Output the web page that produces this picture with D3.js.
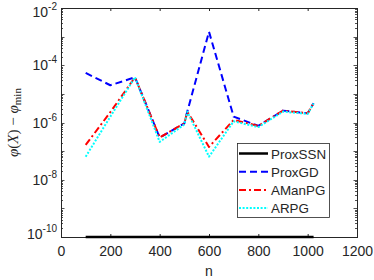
<!DOCTYPE html>
<html>
<head>
<meta charset="utf-8">
<script src="https://cdn.jsdelivr.net/npm/d3@7"></script>
<style>
    body { margin: 0; background: #fff; }
    svg text { font-family: "Liberation Sans", Arial, sans-serif; fill: #262626; }
</style>
</head>
<body>
<div class="canvas"></div>
<script>
    const nValues = [100, 200, 300, 400, 500, 512, 600, 700, 800, 900, 1000, 1024];
    const proxSSN = [1e-10, 1e-10, 1e-10, 1e-10, 1e-10, 1e-10, 1e-10, 1e-10, 1e-10, 1e-10, 1e-10, 1e-10];
    const proxGD = [5.4e-5, 2.0e-5, 3.8e-5, 3.0e-7, 9.3e-7, 2.4e-6, 1.48e-3, 1.6e-6, 7.6e-7, 2.6e-6, 2.1e-6, 4.7e-6];
    const aManPG = [1.64e-7, 2.3e-6, 3.8e-5, 3.0e-7, 9.3e-7, 2.4e-6, 1.4e-7, 1.23e-6, 7.6e-7, 2.6e-6, 2.1e-6, 4.7e-6];
    const arpg = [6.4e-8, 1.6e-6, 3.8e-5, 2.1e-7, 8.5e-7, 2.4e-6, 6.4e-8, 1.1e-6, 6.9e-7, 2.4e-6, 2.0e-6, 4.6e-6];
    const seriesNames = ["ProxSSN", "ProxGD", "AManPG", "ARPG"];
    const xTicks = [0, 200, 400, 600, 800, 1000, 1200];
    const yTickExps = [-10, -8, -6, -4, -2];

    (function () {
        const width = 374, height = 280;
        const LEFT = 61, RIGHT = 357, TOP = 8, BOTTOM = 237;
        const AXIS_COLOR = "#262626";

        const svg = d3.select(".canvas").append("svg")
            .attr("width", width)
            .attr("height", height);

        const x = d3.scaleLinear().domain([0, 1200]).range([LEFT, RIGHT]);
        const y = d3.scaleLog().domain([1e-10, 1e-2]).range([BOTTOM, TOP]);

        // white plot background + box
        svg.append("rect")
            .attr("x", LEFT).attr("y", TOP)
            .attr("width", RIGHT - LEFT).attr("height", BOTTOM - TOP)
            .attr("fill", "#fff");

        // x axis (ticks inward) bottom and top
        const xb = svg.append("g")
            .attr("transform", "translate(0," + BOTTOM + ")")
            .call(d3.axisBottom(x).tickValues(xTicks).tickSize(-3).tickPadding(9).tickFormat(d3.format("d")));
        xb.select(".domain").remove();
        xb.selectAll("line").attr("stroke", AXIS_COLOR);
        xb.selectAll("text").attr("font-size", 14).attr("fill", AXIS_COLOR)
            .attr("font-family", "Liberation Sans, Arial, sans-serif");

        const xt = svg.append("g")
            .attr("transform", "translate(0," + TOP + ")")
            .call(d3.axisTop(x).tickValues(xTicks).tickSize(-3).tickFormat(""));
        xt.select(".domain").remove();
        xt.selectAll("line").attr("stroke", AXIS_COLOR);

        // y ticks: majors every decade, minors 2..9
        const majors = d3.range(-10, -1).map(function (e) { return Math.pow(10, e); });
        const minors = [];
        d3.range(-10, -2).forEach(function (e) {
            for (let k = 2; k <= 9; k++) minors.push(k * Math.pow(10, e));
        });
        const tickG = svg.append("g").attr("stroke", AXIS_COLOR).attr("stroke-width", 0.8);
        [[LEFT, 1], [RIGHT, -1]].forEach(function (side) {
            tickG.selectAll(null).data(majors).enter().append("line")
                .attr("x1", side[0]).attr("x2", side[0] + side[1] * 3.5)
                .attr("y1", function (d) { return Math.round(y(d)) + 0.5; })
                .attr("y2", function (d) { return Math.round(y(d)) + 0.5; });
            tickG.selectAll(null).data(minors).enter().append("line")
                .attr("x1", side[0]).attr("x2", side[0] + side[1] * 2)
                .attr("y1", function (d) { return Math.round(y(d)) + 0.5; })
                .attr("y2", function (d) { return Math.round(y(d)) + 0.5; });
        });

        // y tick labels 10^e
        const yl = svg.append("g");
        yTickExps.forEach(function (e) {
            let yy = y(Math.pow(10, e));
            if (e === -2) yy += 4;
            if (e === -10) yy -= 3;
            const t = yl.append("text")
                .attr("x", LEFT - 4)
                .attr("y", yy + 5)
                .attr("text-anchor", "end")
                .attr("font-size", 14);
            t.append("tspan").text("10");
            t.append("tspan").attr("dy", -7).attr("font-size", 10).text(String(e).replace("-", "-"));
        });

        // box
        svg.append("rect")
            .attr("x", LEFT + 0.5).attr("y", TOP + 0.5)
            .attr("width", RIGHT - LEFT).attr("height", BOTTOM - TOP)
            .attr("fill", "none").attr("stroke", AXIS_COLOR).attr("stroke-width", 1);

        // axis labels
        svg.append("text")
            .attr("x", (LEFT + RIGHT) / 2).attr("y", 276)
            .attr("text-anchor", "middle").attr("font-size", 14)
            .text("n");

        const ylab = svg.append("text")
            .attr("transform", "translate(18," + ((TOP + BOTTOM) / 2) + ") rotate(-90)")
            .attr("text-anchor", "middle")
            .attr("font-size", 15)
            .style("font-family", "'Liberation Serif', 'DejaVu Serif', serif");
        ylab.append("tspan").attr("font-style", "italic").text("φ");
        ylab.append("tspan").text("(");
        ylab.append("tspan").attr("font-style", "italic").text("X");
        ylab.append("tspan").text(") − ");
        ylab.append("tspan").attr("font-style", "italic").text("φ");
        ylab.append("tspan").attr("dy", 3).attr("font-size", 11).text("min");

        // series
        const styles = [
            { data: proxSSN, color: "#000000", dash: null, w: 2.5 },
            { data: proxGD, color: "#0000ff", dash: "7,4", w: 2 },
            { data: aManPG, color: "#ff0000", dash: "7,3,2,3", w: 2 },
            { data: arpg, color: "#00ffff", dash: "2,1.6", w: 2 }
        ];

        const line = d3.line()
            .x(function (d) { return x(d[0]); })
            .y(function (d) { return y(d[1]); });

        styles.forEach(function (s) {
            svg.append("path")
                .datum(nValues.map(function (n, i) { return [n, s.data[i]]; }))
                .attr("d", line)
                .attr("fill", "none")
                .attr("stroke", s.color)
                .attr("stroke-width", s.w)
                .attr("stroke-dasharray", s.dash)
                .attr("stroke-linejoin", "round");
        });

        // legend
        const LG_X = 237, LG_Y = 143, LG_W = 92, LG_H = 74;
        const legend = svg.append("g");
        legend.append("rect")
            .attr("x", LG_X + 0.5).attr("y", LG_Y + 0.5)
            .attr("width", LG_W).attr("height", LG_H)
            .attr("fill", "#fff").attr("stroke", AXIS_COLOR).attr("stroke-width", 0.8);
        seriesNames.forEach(function (name, i) {
            const ly = LG_Y + 10.5 + i * 18.2;
            legend.append("line")
                .attr("x1", LG_X + 2).attr("x2", LG_X + 31)
                .attr("y1", ly).attr("y2", ly)
                .attr("stroke", styles[i].color)
                .attr("stroke-width", styles[i].w)
                .attr("stroke-dasharray", styles[i].dash);
            legend.append("text")
                .attr("x", LG_X + 34).attr("y", ly + 5)
                .attr("font-size", 13.4)
                .text(name);
        });
    })();
</script>
</body>
</html>
